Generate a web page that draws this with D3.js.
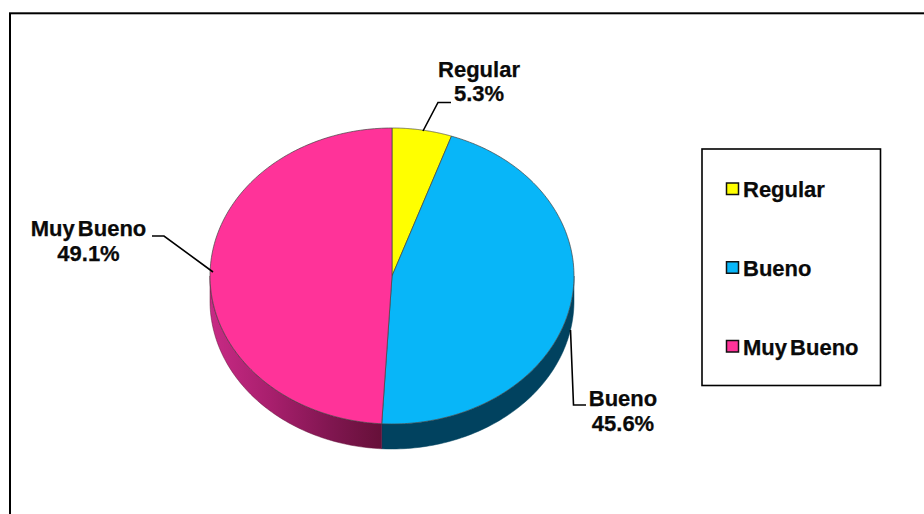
<!DOCTYPE html>
<html><head><meta charset="utf-8">
<script src="https://cdn.jsdelivr.net/npm/d3@7/dist/d3.min.js"></script>
<style>html,body{margin:0;padding:0;background:#fff}svg{display:block}text{font-family:"Liberation Sans",Arial,sans-serif;font-weight:700;fill:#0a0a0a;font-size:22px;word-spacing:-3px;stroke:#0a0a0a;stroke-width:0.25px}</style>
</head><body><svg id="c" width="924" height="514"></svg>
<script>
const categories = ["Regular", "Bueno", "Muy Bueno"];
const percentages = [5.3, 45.6, 49.1];
const percentLabels = ["5.3%", "45.6%", "49.1%"];
const topColors = ["#ffff00", "#08b6f8", "#ff3399"];

const svg = d3.select("#c");
const W = 924, H = 514;
const cx = 392, cy = 276, rx = 182, ry = 148, depth = 25;

// frame
svg.append("rect").attr("x",10).attr("y",13.3).attr("width",W+20).attr("height",H+20)
  .attr("fill","#fff").attr("stroke","#000").attr("stroke-width",2);

const arcs = d3.pie().sort(null).value(d=>d)(percentages);
const px = d3.scaleLinear().domain([-1,1]).range([cx-rx,cx+rx]);
const py = d3.scaleLinear().domain([-1,1]).range([cy-ry,cy+ry]);
const pt = (a,dy=0)=>[px(Math.sin(a)), py(-Math.cos(a))+dy];
const line = d3.line();

const defs = svg.append("defs");
const g1 = defs.append("linearGradient").attr("id","pinkWall")
  .attr("gradientUnits","userSpaceOnUse").attr("x1",px(-1)).attr("x2",px(-0.05)).attr("y1",0).attr("y2",0);
[[0,"#c82a85"],[0.35,"#a81f6d"],[0.7,"#801650"],[1,"#651038"]].forEach(s=>g1.append("stop").attr("offset",s[0]).attr("stop-color",s[1]));

// side wall
function wall(start,end){
  const n=80, as=d3.range(n+1).map(i=>start+(end-start)*i/n);
  return line(as.map(a=>pt(a)).concat(as.slice().reverse().map(a=>pt(a,depth))))+"Z";
}
const vis = [
  {i:1,s:Math.PI/2,e:arcs[1].endAngle,fill:"#01425f"},
  {i:2,s:arcs[2].startAngle,e:Math.PI*1.5,fill:"url(#pinkWall)"}
];
vis.forEach(v=>svg.append("path").attr("d",wall(v.s,v.e)).attr("fill",v.fill).attr("stroke",v.i==1?"#01425f":"#651038").attr("stroke-width",0.5));

// top wedges
svg.append("g").selectAll("path").data(arcs).join("path")
  .attr("d",d=>{
    const n=160, as=d3.range(n+1).map(i=>d.startAngle+(d.endAngle-d.startAngle)*i/n);
    return line([[px(0),py(0)]].concat(as.map(a=>pt(a))))+"Z";
  })
  .attr("fill",(d,i)=>topColors[i]).attr("stroke","#444").attr("stroke-width",0.7).attr("stroke-linejoin","round");

// leader lines
const leaders = [
  [[423,131],[438,102.5],[451,102.5]],
  [[570.5,330],[573.5,405],[586,405]],
  [[213,272],[164,236],[152,236]]
];
svg.append("g").selectAll("path").data(leaders).join("path")
  .attr("d",d=>line(d)).attr("fill","none").attr("stroke","#000").attr("stroke-width",1.6);

// data labels
const labelPos = [[479,76.5],[623,406],[88.5,236]];
const lab = svg.append("g").selectAll("text").data(categories).join("text")
  .attr("text-anchor","middle").attr("x",(d,i)=>labelPos[i][0]).attr("y",(d,i)=>labelPos[i][1]);
lab.append("tspan").text(d=>d);
lab.append("tspan").attr("x",(d,i)=>labelPos[i][0]).attr("dy",24.5).text((d,i)=>percentLabels[i]);

// legend
svg.append("rect").attr("x",702).attr("y",149).attr("width",178.5).attr("height",236.5)
  .attr("fill","#fff").attr("stroke","#000").attr("stroke-width",1.6);
const ly = d3.scalePoint().domain(categories).range([189,346.5]);
const leg = svg.append("g").selectAll("g").data(categories).join("g")
  .attr("transform",d=>`translate(0,${ly(d)})`);
leg.append("rect").attr("x",726.5).attr("y",-6).attr("width",12).attr("height",11.5)
  .attr("fill",(d,i)=>topColors[i]).attr("stroke","#111").attr("stroke-width",1.5);
leg.append("text").attr("x",743).attr("y",8).text(d=>d);
</script></body></html>
